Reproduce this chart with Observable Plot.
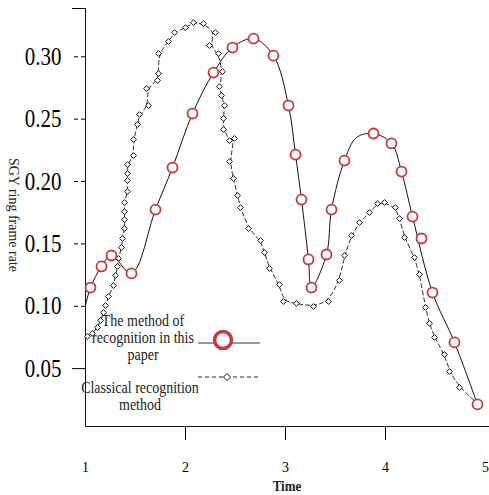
<!DOCTYPE html>
<html>
<head>
<meta charset="utf-8">
<script src="https://cdn.jsdelivr.net/npm/d3@7"></script>
<script src="https://cdn.jsdelivr.net/npm/@observablehq/plot@0.6"></script>
<style>
  html, body { margin: 0; padding: 0; background: #fff; }
  #wrap { position: relative; width: 489px; height: 495px; }
  #legend { position: absolute; left: 0; top: 0; pointer-events: none; }
</style>
</head>
<body>
<div id="wrap"></div>
<script>
// ---- Data ----
const xTicks = [1, 2, 3, 4, 5];
const yTicks = [0.05, 0.10, 0.15, 0.20, 0.25, 0.30];

// "The method of recognition in this paper" – markers
const methodX = [1.05,1.16,1.26,1.46,1.70,1.87,2.07,2.28,2.47,2.68,2.88,3.03,3.10,3.16,3.23,3.26,3.41,3.46,3.59,3.88,4.06,4.16,4.27,4.36,4.47,4.69,4.92];
const methodY = [0.115,0.1319,0.1407,0.1263,0.1775,0.2112,0.2545,0.2873,0.3074,0.3146,0.3009,0.2609,0.2216,0.1855,0.1375,0.115,0.1415,0.1775,0.2168,0.2385,0.2305,0.208,0.1719,0.1543,0.111,0.071,0.0213];
// its fitted curve
const methodCurveX = [1.00,1.05,1.16,1.26,1.46,1.70,1.87,2.07,2.28,2.47,2.68,2.88,3.03,3.10,3.16,3.23,3.26,3.41,3.46,3.59,3.71,3.88,4.06,4.16,4.27,4.47,4.69,4.92];
const methodCurveY = [0.1006,0.115,0.1319,0.1407,0.1263,0.1775,0.2112,0.2545,0.2873,0.3074,0.3146,0.3009,0.2609,0.2216,0.1855,0.1375,0.115,0.1415,0.1775,0.2168,0.2352,0.2385,0.2305,0.208,0.1719,0.111,0.071,0.0213];

// "Classical recognition method"
const classicX = [1.02,1.07,1.12,1.15,1.18,1.20,1.23,1.28,1.30,1.32,1.33,1.36,1.37,1.39,1.39,1.39,1.39,1.42,1.42,1.42,1.42,1.48,1.48,1.52,1.54,1.63,1.61,1.72,1.73,1.73,1.83,1.89,2.00,2.08,2.18,2.30,2.24,2.33,2.37,2.34,2.36,2.39,2.38,2.38,2.44,2.49,2.44,2.48,2.52,2.55,2.63,2.75,2.79,2.84,2.94,2.98,3.11,3.28,3.43,3.54,3.59,3.66,3.74,3.84,3.92,3.99,4.10,4.14,4.19,4.29,4.34,4.40,4.44,4.49,4.59,4.64,4.74,4.92];
const classicY = [0.0758,0.0782,0.083,0.0886,0.095,0.1006,0.1078,0.1166,0.1246,0.1319,0.1383,0.1471,0.1543,0.1623,0.1695,0.1759,0.1832,0.192,0.2008,0.2064,0.2136,0.2208,0.2337,0.2457,0.2537,0.2609,0.2745,0.281,0.2865,0.3026,0.3122,0.3194,0.3234,0.3274,0.3266,0.3194,0.309,0.3026,0.2881,0.2761,0.2689,0.2609,0.2505,0.2417,0.2328,0.2345,0.216,0.2024,0.1888,0.1791,0.1623,0.1527,0.1431,0.1303,0.1174,0.1038,0.1022,0.0998,0.1038,0.1207,0.1407,0.1567,0.1671,0.1751,0.1823,0.1832,0.1791,0.1703,0.1551,0.1391,0.1255,0.099,0.0862,0.075,0.0613,0.0477,0.0349,0.0221];

const seriesNames = ["The method of recognition in this paper", "Classical recognition method"];

// ---- Tables ----
const methodPts = methodX.map((x, i) => ({x, y: methodY[i]}));
const methodCurve = methodCurveX.map((x, i) => ({x, y: methodCurveY[i]}));
const classicPts = classicX.map((x, i) => ({x, y: classicY[i]}));

const FONT = "'Liberation Serif', 'Times New Roman', serif";
const RED = "#c8383b";
const yDomain = [0.0036, 0.3387];

const chart = Plot.plot({
  width: 489,
  height: 495,
  marginLeft: 85,
  marginRight: 0,
  marginTop: 8,
  marginBottom: 69,
  style: {fontFamily: FONT, background: "#fff", overflow: "visible"},
  x: {domain: [1, 5.04]},
  y: {domain: yDomain},
  marks: [
    // y axis ticks (dashed) and labels
    Plot.axisY(yTicks.filter(d => d > 0.06), {tickSize: 13, tickPadding: 11, fontSize: 21, strokeDasharray: "4,3", tickFormat: d => d.toFixed(2), label: null}),
    Plot.axisY([0.05], {tickSize: 13, tickPadding: 11, fontSize: 21, tickFormat: d => d.toFixed(2), label: null}),
    Plot.axisY([yDomain[1]], {tickSize: 13, tickFormat: () => "", label: null}),
    // x axis ticks and labels
    Plot.axisX([2, 3, 4], {tickSize: 14, tickFormat: () => "", label: null}),
    Plot.axisX(xTicks, {tickSize: 0, tickPadding: 36, fontSize: 14, tickFormat: d => String(d), label: null}),
    Plot.frame({anchor: "left", stroke: "#111"}),
    Plot.frame({anchor: "bottom", stroke: "#111"}),
    // classical series
    Plot.line(classicPts, {x: "x", y: "y", curve: "basis", stroke: "#111", strokeWidth: 0.9, strokeDasharray: "4,3"}),
    Plot.dot(classicPts, {x: "x", y: "y", symbol: "diamond2", r: 2.6, stroke: "#111", fill: "#fff", strokeWidth: 1}),
    // proposed method
    Plot.line(methodCurve, {x: "x", y: "y", curve: "catmull-rom", stroke: "#111", strokeWidth: 1}),
    Plot.dot(methodPts, {x: "x", y: "y", r: 5, stroke: RED, fill: "#fff", strokeWidth: 1.8})
  ]
});

// stretch y tick labels vertically like the reference
chart.querySelectorAll('g[aria-label="y-axis tick label"] text').forEach(t => {
  const tr = t.getAttribute("transform") || "";
  t.setAttribute("transform", tr + " scale(1,1.2)");
});

const wrap = document.getElementById("wrap");
wrap.appendChild(chart);

// ---- Axis titles & legend overlay ----
const ns = "http://www.w3.org/2000/svg";
const ov = document.createElementNS(ns, "svg");
ov.setAttribute("id", "legend");
ov.setAttribute("width", 489);
ov.setAttribute("height", 495);
ov.style.fontFamily = FONT;
function txt(s, x, y, opts = {}) {
  const t = document.createElementNS(ns, "text");
  t.textContent = s;
  t.setAttribute("x", 0);
  t.setAttribute("y", 0);
  t.setAttribute("text-anchor", opts.anchor || "middle");
  t.setAttribute("font-size", opts.size || 14);
  t.setAttribute("fill", "#222");
  if (opts.weight) t.setAttribute("font-weight", opts.weight);
  t.setAttribute("transform", `translate(${x},${y}) ${opts.rotate ? `rotate(${opts.rotate})` : ""} scale(1,${opts.sy || 1})`);
  ov.appendChild(t);
  return t;
}
function el(name, attrs) {
  const e = document.createElementNS(ns, name);
  for (const k in attrs) e.setAttribute(k, attrs[k]);
  ov.appendChild(e);
  return e;
}
txt("Time", 287, 491, {size: 13, weight: "bold", sy: 1.1});
txt("SGY ring frame rate", 9, 215, {size: 14, rotate: 90, sy: 1.1});

// legend
const leg1 = ["The method of", "recognition in this", "paper"];
leg1.forEach((s, i) => txt(s, 143, 326 + i * 17, {size: 14, sy: 1.2}));
el("line", {x1: 198, x2: 260, y1: 343, y2: 343, stroke: "#777", "stroke-width": 1.6});
el("circle", {cx: 223, cy: 340, r: 8.5, stroke: RED, "stroke-width": 3.5, fill: "#fff"});
const leg2 = ["Classical recognition", "method"];
leg2.forEach((s, i) => txt(s, 140, 393 + i * 17, {size: 14, sy: 1.2}));
el("line", {x1: 198, x2: 260, y1: 377, y2: 377, stroke: "#111", "stroke-width": 0.9, "stroke-dasharray": "4,3"});
el("path", {d: "M227,373.5 L230.5,377 L227,380.5 L223.5,377 Z", stroke: "#111", fill: "#fff", "stroke-width": 1});
wrap.appendChild(ov);
</script>
</body>
</html>
